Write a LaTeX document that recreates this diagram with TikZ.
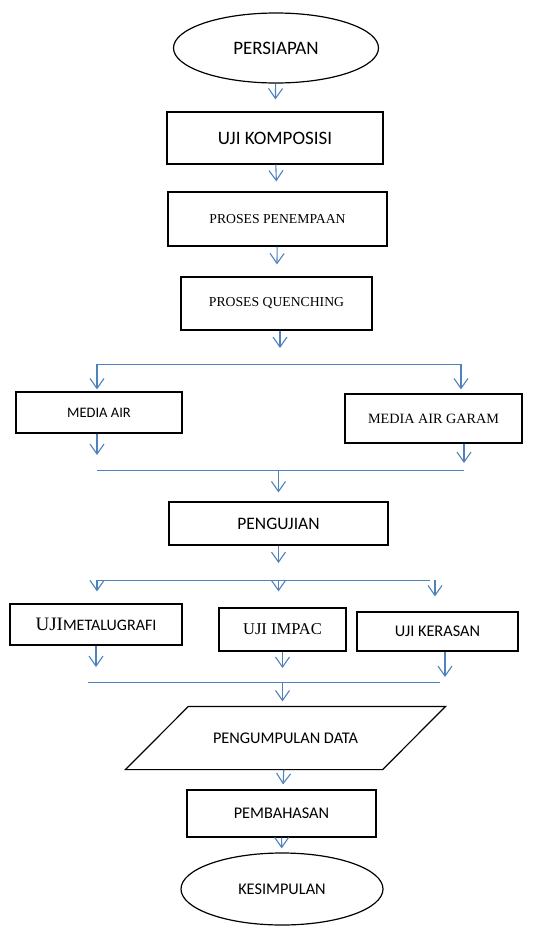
\documentclass[tikz,border=0pt]{standalone}
\usepackage{fontspec}
\setmainfont{Carlito}
\newfontfamily\tms{Liberation Serif}
\usetikzlibrary{shapes.geometric,arrows.meta}
\definecolor{arrblue}{RGB}{79,129,189}

\begin{document}
\begin{tikzpicture}[x=1pt,y=-1pt,
    box/.style={draw, line width=1.2pt, inner sep=0pt, font=\fontsize{16.3}{19}\selectfont},
    bigbox/.style={box, font=\fontsize{19}{22}\selectfont},
    tbox/.style={box, font=\tms\fontsize{13.7}{16}\selectfont},
    oval/.style={box, ellipse},
    arr/.style={arrblue, line width=1.1pt, -{Straight Barb[length=10pt,width=14pt]}},
    bus/.style={arrblue, line width=1pt}]
    \useasboundingbox (0,0) rectangle (539,927);
    \node[oval, bigbox, minimum width=205, minimum height=70] (pers) at (276,48) {PERSIAPAN};
    \node[bigbox, minimum width=216, minimum height=52] (komp) at (275,138) {UJI KOMPOSISI};
    \node[tbox, minimum width=219, minimum height=54] (tempa) at (277.5,219) {PROSES PENEMPAAN};
    \node[tbox, minimum width=191, minimum height=53] (quench) at (276.5,303.5) {PROSES QUENCHING};
    \node[box, font=\fontsize{14.5}{17}\selectfont, minimum width=166, minimum height=41] (air) at (99,412.5) {MEDIA AIR};
    \node[tbox, font=\tms\fontsize{14.2}{17}\selectfont, minimum width=177, minimum height=49] (garam) at (433.5,418.5) {MEDIA AIR GARAM};
    \node[box, font=\fontsize{17.5}{20}\selectfont, minimum width=219, minimum height=43] (uji) at (278.5,523.5) {PENGUJIAN};
    \node[box, minimum width=172, minimum height=41] (metal) at (96,624.5) {{\tms\fontsize{19}{22}\selectfont UJI}{\fontsize{16}{19}\selectfont METALUGRAFI}};
    \node[tbox, font=\tms\fontsize{16.5}{19}\selectfont, minimum width=127, minimum height=43] (impac) at (282.5,629.5) {UJI IMPAC};
    \node[box, minimum width=161, minimum height=39] (keras) at (437.5,631.5) {UJI KERASAN};
    \node[box, draw=none, minimum width=256, minimum height=62] (data) at (285.5,738) {PENGUMPULAN DATA};
    \draw[line width=1.2pt] ([xshift=31.5pt]data.north west) -- ([xshift=31.5pt]data.north east)
        -- ([xshift=-31.5pt]data.south east) -- ([xshift=-31.5pt]data.south west) -- cycle;
    \node[box, minimum width=189, minimum height=47] (pemb) at (281.5,813.5) {PEMBAHASAN};
    \node[oval, minimum width=202, minimum height=72] (kes) at (282,889) {KESIMPULAN};

    \draw[arr, shorten >=12pt] (pers) -- (komp);
    \draw[arr, shorten >=10pt] (komp) -- (tempa);
    \draw[arr, shorten >=12pt] (tempa) -- (quench);

    \coordinate (q1) at (280,348);
    \coordinate (s1l) at (97,364);
    \coordinate (s1r) at (461,364);
    \draw[arr] (quench.south -| q1) -- (q1);
    \draw[bus] (s1l) -- (s1r);
    \draw[arr, shorten >=2pt] (s1l) -- (s1l |- air.north);
    \draw[arr, shorten >=4pt] (s1r) -- (s1r |- garam.north);

    \coordinate (m1l) at (97,470);
    \coordinate (m1r) at (464,470);
    \draw[arr, shorten >=15pt] (air.south -| m1l) -- (m1l);
    \draw[arr, shorten >=7pt] (garam.south -| m1r) -- (m1r);
    \draw[bus] (m1l) -- (m1r);
    \draw[arr, shorten >=9pt] (uji.north |- m1l) -- (uji.north);

    \coordinate (s2l) at (97,580);
    \coordinate (s2r) at (430,580);
    \coordinate (s2k) at (435,580);
    \draw[arr, shorten >=17pt] (uji.south) -- (uji.south |- s2l);
    \draw[bus] (s2l) -- (s2r);
    \draw[arr, shorten >=12pt] (s2l) -- (s2l |- metal.north);
    \draw[arr, shorten >=16pt] (uji.south |- s2l) -- (uji.south |- impac.north);
    \draw[arr, shorten >=15pt] (s2k) -- (s2k |- keras.north);

    \coordinate (m2l) at (88,682);
    \coordinate (m2r) at (440,682);
    \coordinate (m2k) at (445,682);
    \draw[arr, shorten >=15pt] (metal.south) -- (metal.south |- m2l);
    \draw[arr, shorten >=14pt] (impac.south) -- (impac.south |- m2l);
    \draw[arr, shorten >=5pt] (keras.south -| m2k) -- (m2k);
    \draw[bus] (m2l) -- (m2r);
    \draw[arr, shorten >=5pt] (impac.south |- m2l) -- (impac.south |- data.north);

    \draw[arr, shorten >=5pt] (data) -- (pemb);
    \draw[arr, shorten >=4pt] (pemb) -- (kes);
\end{tikzpicture}
\end{document}
